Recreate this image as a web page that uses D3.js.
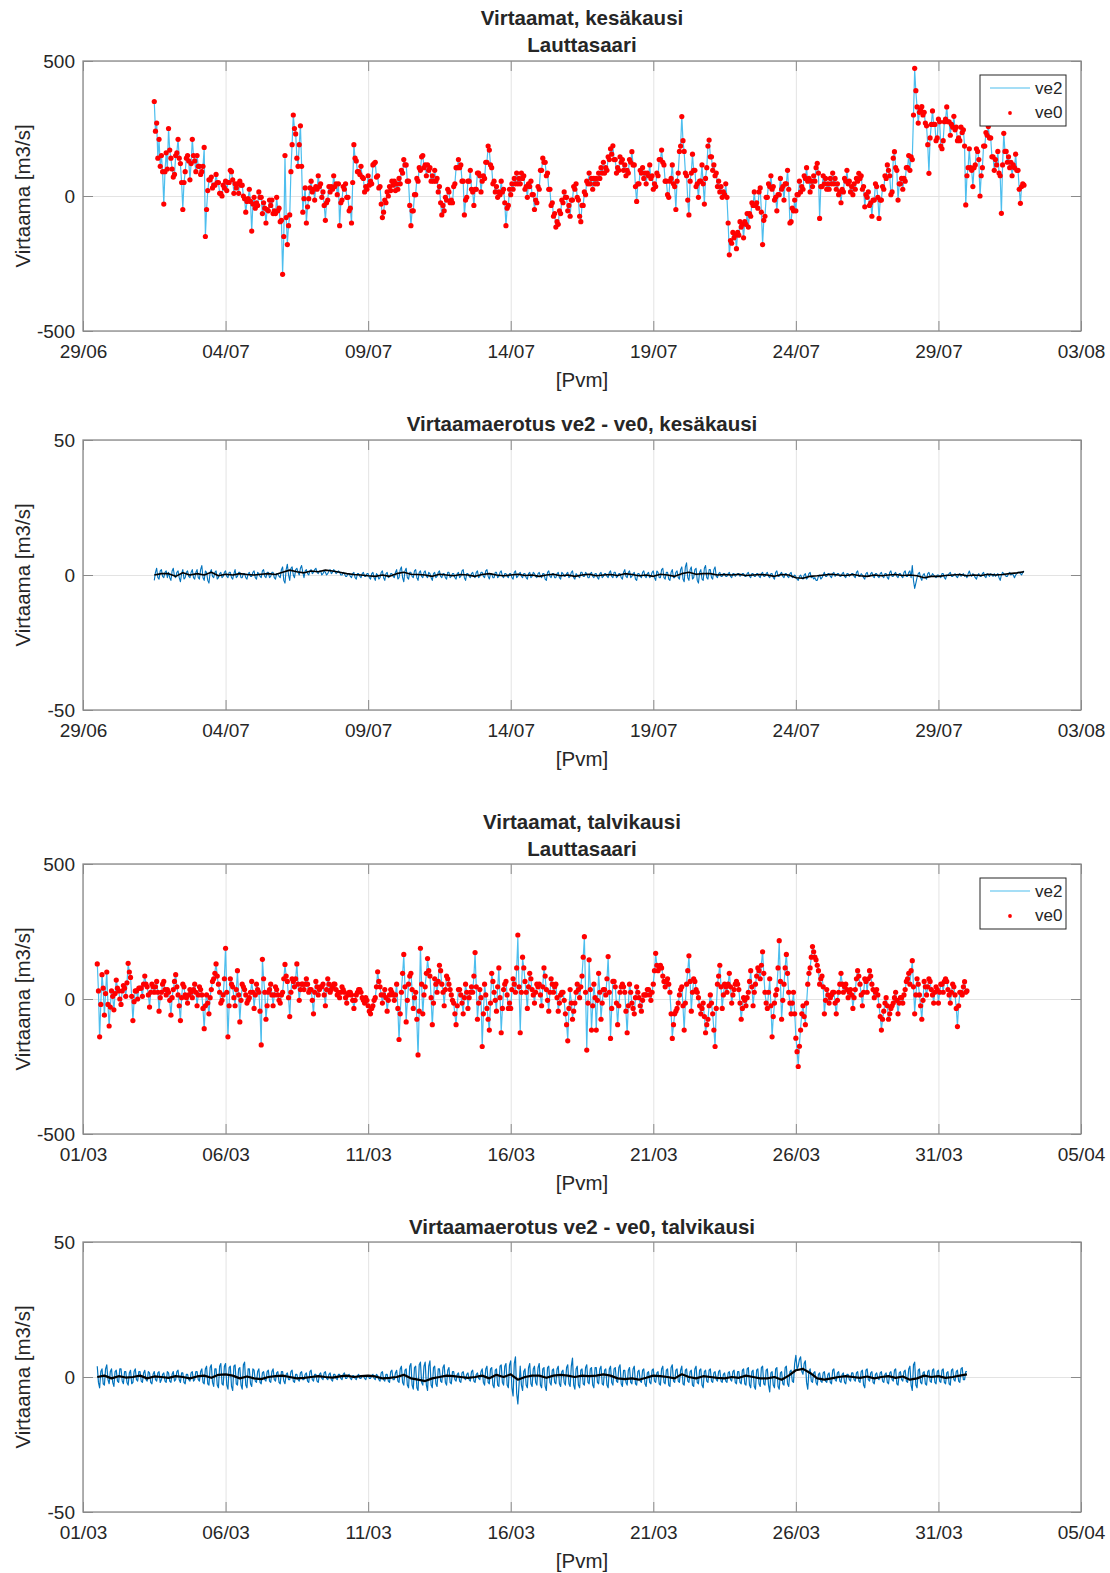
<!DOCTYPE html>
<html>
<head>
<meta charset="utf-8">
<script src="https://cdn.jsdelivr.net/npm/d3@7"></script>
<style>
body { margin: 0; background: #fff; }
svg text { font-family: "Liberation Sans", Arial, sans-serif; fill: #262626; }
</style>
</head>
<body>
<div id="container"></div>
<script>
let w = 1110;
let h = 1573;

// ---- data ----------------------------------------------------------------
// summer flow ve0, hourly from 01/07 12:00 to 01/08 00:00 (one row = one day)
let summerVe0 = [
  350,240,270,140,210,110,150,90,-30,90,160,100,
  250,170,140,100,70,80,150,160,210,140,120,50,-50,50,90,140,150,130,60,120,210,150,130,90,
  150,110,110,80,90,110,180,-150,-50,20,60,60,70,30,40,40,80,50,50,10,10,0,40,30,
  55,20,50,50,95,90,60,10,45,30,45,10,55,40,40,0,-10,-60,-20,-10,25,-20,-130,-30,
  -5,-45,-25,-35,15,-5,-5,-65,-25,-45,-100,-50,-55,-15,-35,-15,-65,-55,-65,-5,-55,-45,-95,-90,
  -290,-150,150,-80,-180,-110,-70,90,190,300,250,230,140,110,190,260,110,-60,-10,30,-100,-40,-10,30,
  55,15,25,-15,35,25,75,35,45,-5,15,-35,-90,-25,-15,35,15,35,25,75,35,45,5,45,
  -110,-25,-15,35,25,45,-5,-5,-55,-45,-100,50,190,140,130,90,90,80,110,70,65,15,35,25,
  75,40,55,45,115,120,125,70,75,30,35,-30,-80,-60,-15,-25,15,0,35,20,55,40,55,20,
  45,25,65,45,95,85,135,115,115,55,55,-35,-110,-55,-55,5,5,65,55,105,95,145,150,105,
  115,75,115,95,105,55,75,55,95,55,65,15,35,-25,-70,-35,-55,-5,-15,25,15,-25,-15,-25,
  35,45,105,105,135,105,115,55,55,-70,-15,-5,55,55,95,25,15,-35,25,25,85,85,75,15,
  55,75,65,125,125,185,170,115,105,45,55,15,35,-5,15,5,55,15,25,-25,-110,-45,-35,25,
  5,45,25,65,45,85,45,65,45,85,65,75,25,35,-5,45,35,55,5,5,-50,-15,-25,35,
  25,95,95,140,125,125,75,85,25,25,-35,-25,-75,-65,-115,-95,-105,-55,-65,-15,-25,15,-5,-5,
  -55,-35,-75,-15,-15,35,25,45,-5,-15,-75,-95,-35,-35,15,5,55,45,85,45,65,25,65,45,
  65,45,85,65,105,85,125,85,105,95,145,135,175,155,186,135,135,85,105,95,145,125,135,95,
  115,75,95,85,135,125,164,115,115,35,-20,45,45,95,85,105,65,85,45,85,75,115,65,75,
  25,45,35,85,75,135,135,170,125,115,55,55,5,-5,55,65,115,45,35,-50,55,85,165,185,
  294,205,165,85,75,-15,-70,55,85,155,95,95,35,45,-5,55,55,115,45,-30,65,105,185,207,
  145,145,95,115,75,85,35,55,15,35,-5,15,5,45,-5,-100,-218,-165,-175,-135,-155,-145,-195,-135,
  -145,-95,-115,-105,-155,-95,-105,-65,-115,-65,-75,-25,-35,15,-35,-25,-45,15,30,-60,-180,-90,-75,-5,
  -5,45,35,75,25,35,-15,-5,-55,5,5,65,25,35,-15,45,45,95,25,-100,-95,-45,-55,-15,
  -55,5,5,55,15,35,25,75,65,105,55,65,15,55,35,75,55,105,121,85,-83,35,35,75,
  45,65,25,45,25,65,45,85,45,65,25,45,5,15,-25,25,15,65,55,95,45,55,15,35,
  5,45,25,65,55,84,65,75,25,35,-40,5,-5,15,-35,-25,-75,-15,-15,45,35,-5,-83,-15,
  -15,35,25,75,65,115,95,75,5,15,140,164,105,95,-15,45,45,65,25,65,55,105,105,150,
  95,145,135,300,473,390,330,270,310,320,331,300,310,270,260,190,84,215,265,315,265,265,205,215,
  285,275,185,175,205,275,285,330,275,275,225,265,255,295,245,255,205,215,205,255,235,245,185,-33,
  75,105,175,105,95,35,105,115,175,165,135,0,75,105,185,185,235,225,257,215,215,145,145,95,
  135,115,165,85,75,-64,115,232,165,165,125,145,105,125,75,115,105,155,95,95,25,-27,35,45,
  40
];

// ve2 - ve0, summer, hourly
let summerDiff = [
  -2,1,2.5,-1,-1.5,1.5,2,-0.5,-1,1,1.5,-1,
  1,-1,-2,1.5,2.5,-0.5,-1,1,1.5,-1,-2.5,0.5,2,-1.5,-1,1,1.5,-0.5,-1,1,2,-1,-1.5,1,
  2,-1,-1.5,2,3.5,-1,-2,1.5,1,-2,-3,1,2,-0.5,-1,1,1.5,-1.5,-1,0.5,1,-1,-0.5,1,
  1.5,-0.5,-1,1,1,-1,-1.5,0.5,2,-1,-0.5,1,1,-1,-1,0.5,0.5,-1,-1.5,0.5,1,-0.5,-0.5,1,
  1.5,-1,-1.5,1,0.5,-0.5,-1,1.5,2,-0.5,-1,1,1,-1,-0.5,1,1,-1,-1.5,0.5,0.5,-0.5,-1,2,
  3,-2,-3,2,4,0,-2,2.5,3,0,-1,2,2.5,1,0,2.5,3.5,1,-1,1.5,2,0.5,0,1.5,
  2,0.5,1,2,2.5,1,0.5,1.5,1.5,0,0.5,1.5,1,0,0.5,1.5,2,0.5,1,2,1.5,0.5,1,1.5,
  1,0,0,1,0.5,-0.5,-0.5,0.5,0.5,-0.5,-1,0.5,1,-1,-1.5,0.5,0.5,-0.5,-1,0.5,1,-0.5,-0.5,0.5,
  0.5,-1,-1.5,0.5,1,-1,-2,0.5,0,-1.5,-1,1,1.5,-1,-2,0.5,1,-1,-0.5,0.5,0.5,-0.5,-1,1,
  2,-1.5,-1,2,3,-1,-2.5,1.5,2.5,-1,-1.5,1,1,-0.5,-1,1.5,2,-1,-2,1,1.5,-0.5,-1,1,
  1.5,-0.5,-1,1,0.5,-1,-2,0.5,1,-1,-0.5,1,1.5,-0.5,-1,0.5,0.5,-1,-1.5,1,1,-1,-0.5,0.5,
  0.5,-1,-1.5,0.5,1,-1,-0.5,1.5,2,-1,-2,0.5,0.5,-0.5,-1,0.5,1,-0.5,-1,1,1.5,-1,-0.5,1,
  1,-0.5,-1,1.5,2,-0.5,-1.5,0.5,0.5,-1,-1,1,1,-1,-0.5,1,1.5,-0.5,-1,0.5,0.5,-0.5,-1,0.5,
  0.5,-1,-1.5,1,1.5,-1,-0.5,0.5,1,-0.5,-1,0.5,0.5,-1,-1.5,0.5,1,-1,-0.5,1,0.5,-0.5,-1,0.5,
  1,-0.5,-1,0.5,0.5,-1.5,-2,1,1.5,-0.5,-1,0.5,0.5,-1,-1,0.5,1,-1,-1.5,1,0.5,-0.5,-0.5,0.5,
  1,-1,-0.5,1,1.5,-1,-1.5,0.5,0,-0.5,-1,1,1,-0.5,-0.5,1,0.5,-1,-1,0.5,1,-0.5,-1,0.5,
  0.5,-1,-1.5,0.5,1,-1,-0.5,0.5,0.5,-0.5,-1,1,1.5,-0.5,-1,1,1,-1,-0.5,0.5,0.5,-1,-1.5,1,
  2,-0.5,-1,1,1.5,-1,-0.5,0.5,1,-1.5,-2,0.5,0.5,-0.5,-1,1,1.5,-0.5,-1,0.5,1,-1,-0.5,1,
  1.5,-1,-2,1.5,1,-1,-1,2,2.5,-1,-1.5,1,1,-1.5,-2,1,2,-1,-1,1,1.5,-1,-1.5,2,
  3,-1.5,-2.5,3,4.5,-1,-2,2,3,-1.5,-1,2,2.5,-2,-3,1,2,-1.5,-2,2.5,3.5,-1,-1.5,2,
  2,-1,-1.5,2,3,-0.5,-1,0.5,1,-0.5,-0.5,0.5,0.5,-0.5,-0.5,0.5,1,-0.5,-1,0.5,0.5,-0.5,0,0.5,
  0.5,-0.5,0,0.5,0.5,-0.5,-0.5,0.5,1,-0.5,-1,0.5,0.5,-0.5,-0.5,0.5,0.5,-0.5,-1,0.5,1,-0.5,-0.5,0.5,
  1,-0.5,-1,0.5,0.5,-1,-1.5,1,1.5,-0.5,-0.5,0.5,1,-0.5,-1,0.5,0.5,-0.5,-1,0.5,1,-1,-0.5,0,
  -0.5,-1.5,-2,-0.5,0,-1,-1.5,0,0.5,-1.5,-1,0.5,1,-1,-0.5,-1.5,-1,-2,-2,-0.5,0,-1.5,-1,0,
  1,-0.5,-0.5,0.5,0.5,-0.5,-1,0.5,1,-0.5,0,0.5,0.5,-0.5,-0.5,0.5,1,-0.5,-1,0.5,0.5,-0.5,0,0.5,
  0.5,-0.5,-1,1,1.5,-0.5,-0.5,0.5,0,-1,-1.5,0.5,1,-0.5,-0.5,0.5,1,-0.5,-1,0.5,0.5,-0.5,-1,0.5,
  1,-0.5,-1,0.5,0.5,-1,-1.5,1,1.5,-0.5,-0.5,0.5,1,-0.5,-1,0.5,0.5,-0.5,-1,1,1.5,-0.5,-0.5,1,
  1.5,-1,3.5,-2,-5,-3,-1,0.5,1,-1,-2,0,0.5,-1,-1.5,0.5,1,-0.5,-0.5,0.5,0,-0.5,-1,0,
  0,-0.5,-1,0.5,0.5,-1,-1.5,0,0,0.5,1,-0.5,-0.5,0,0.5,-0.5,-1,0,0.5,-0.5,0,0.5,-0.5,0,
  -1,0.5,1.5,0,-0.5,0.5,0,-1,-1.5,0,0.5,-0.5,-0.5,0.5,1,-0.5,-1,0.5,0,-0.5,0.5,0,-0.5,0.5,
  -0.5,0,0.5,-1,-2,0,1,0.5,0,-0.5,-0.5,0.5,1,0,0.5,0,-1,0,0.5,1,1,0.5,0,1,
  1.5
];

// smoothed difference (black), summer, 6 h steps
let summerSmooth = [
  0,0.5,
  0.5,-0.5,0.8,0,
  0.5,0,1,-0.3,
  0.3,0,0.5,0.2,
  0,0.3,0.5,0.2,
  1,1.8,1.2,0.8,
  1.5,1.2,1.8,1.5,
  1,0.5,0.2,0,
  -0.3,-0.5,0,-0.5,
  0.5,1,0.3,0.2,
  0,-0.5,0.3,0,
  -0.3,0.2,0,-0.5,
  0.2,0.5,0,-0.3,
  0,0.3,-0.2,0,
  -0.5,0,0.3,-0.3,
  0,-0.5,0,0.3,
  -0.3,0,0.2,-0.2,
  0.5,0.2,-0.3,0,
  -0.5,0.3,0,-0.5,
  0.5,1,0.3,0.5,
  0.5,0,0.2,0,
  0.3,-0.2,0,0.2,
  0,-0.5,0.2,0,
  -1,-1.2,-0.5,-0.3,
  0,0.3,0,-0.2,
  0.2,-0.3,-0.5,0,
  -0.3,0,0.2,-0.2,
  0,-0.3,-1,-0.5,
  -0.5,-0.2,0,0.2,
  -0.3,0,-0.2,0.3,
  0,0.2,0.5,0.8,
  1.2
];

// winter flow ve0, hourly from 01/03 12:00 to 01/04 00:00
let winterVe0 = [
  130,30,-140,-20,90,40,-60,20,100,-20,-100,-30,
  30,10,-40,20,70,40,30,0,-20,30,50,40,10,60,132,100,80,10,-80,-10,30,30,0,40,
  40,40,10,55,85,55,45,15,-30,25,55,45,25,45,65,25,-45,5,25,55,65,35,15,35,
  25,-5,-60,5,35,65,90,45,15,-25,-80,5,55,45,15,5,-15,15,35,25,5,35,55,25,
  -25,15,45,35,15,-35,-110,-25,15,-15,-55,5,35,65,75,95,130,85,55,25,-15,-5,15,75,
  188,25,-140,-25,75,55,45,5,-25,35,105,15,-85,-5,55,45,35,15,-15,-5,5,25,65,25,
  -35,15,55,35,25,-45,-170,147,75,25,-75,-25,25,35,55,15,-25,15,45,35,15,-5,-15,15,
  25,75,128,85,65,5,-65,25,75,65,45,75,130,55,-5,35,55,55,35,55,75,55,25,35,
  35,-5,-55,25,65,45,15,35,45,45,55,15,-25,35,75,55,25,35,45,55,55,35,15,25,
  5,25,45,35,25,5,-15,15,25,25,15,-5,-35,-5,15,25,35,35,25,5,-5,-15,5,-5,
  -25,-45,-55,-35,-25,-5,5,45,101,65,45,15,-15,15,35,5,-45,-5,15,35,25,15,-5,15,
  55,-35,-150,-55,25,95,165,45,-85,-5,55,85,95,35,-35,5,25,-75,-207,-45,188,55,-55,15,
  45,95,150,105,85,5,-95,-15,75,55,25,65,125,105,55,25,-25,35,85,75,55,35,15,-5,
  -15,-55,-95,-25,35,35,15,-15,-55,5,55,25,-35,5,25,45,25,85,172,45,-75,-15,35,5,
  -176,-55,55,15,-35,-75,-115,-15,95,65,25,-5,-45,45,115,5,-125,-35,35,55,65,15,-35,-15,
  -35,35,75,55,25,115,237,45,-125,25,155,115,65,25,-35,45,95,75,35,15,-15,25,55,45,
  55,15,-25,45,115,85,35,-5,-45,25,75,55,25,45,55,5,-45,-15,15,25,25,-5,-55,-95,
  -155,-35,35,-15,-75,-45,-15,25,55,35,5,45,85,155,231,25,-189,-15,145,35,-115,-25,55,5,
  -115,-5,95,25,-75,-15,35,35,15,75,157,25,-146,-35,65,65,45,-15,-95,-25,25,45,55,45,
  25,-45,-125,-25,55,25,-15,-35,-55,5,45,25,5,-25,-45,-5,15,15,15,35,35,15,-5,25,
  55,105,169,125,105,115,125,115,85,65,45,65,75,55,25,-55,-146,-95,-55,-45,-35,-15,15,35,
  45,-25,-115,-15,55,105,160,65,-45,25,75,65,35,25,5,-25,-55,-35,-15,-65,-125,-95,-75,-25,
  15,-15,-55,-115,-176,-35,55,85,125,45,-35,15,55,45,25,55,95,45,-15,15,35,55,65,55,
  35,-15,-75,-35,5,-5,-25,5,25,65,105,45,-25,25,55,85,115,105,75,125,175,95,25,-15,
  -35,25,75,-25,-140,-65,-15,15,35,115,216,65,-75,-5,55,115,165,95,25,-15,-55,-15,25,-55,
  -145,-195,-250,-175,-115,-55,-25,-65,-95,-15,55,95,115,155,194,175,155,145,125,105,55,75,85,45,
  -55,-5,35,15,-15,5,15,25,25,-15,-55,-5,25,55,95,55,25,45,55,35,5,25,35,15,
  -35,5,35,75,105,85,55,15,-25,25,75,65,25,75,105,85,55,35,5,25,35,15,-25,-65,
  -115,-75,-45,-15,5,-25,-75,-55,-35,-25,-15,5,25,-5,-55,-15,5,5,-15,15,35,65,75,95,
  55,105,142,45,-55,15,75,55,15,-25,-75,-5,65,45,15,45,75,65,35,15,-15,25,45,35,
  -15,25,55,55,25,65,75,65,35,15,-15,25,55,45,15,-35,-102,-25,25,25,15,45,64,25,
  30
];

// ve2 - ve0, winter, hourly
let winterDiff = [
  4,-2,-4,2,3,-2.5,-3,3,4.5,-1,-2.5,2,
  3,-2,-3.5,2,2.5,-1.5,-2,3,3,-1.5,-2.5,2,2,-2,-3,1.5,2.5,-2.5,-2,2,3,-1,-1.5,2,
  2,-1.5,-2,1.5,2.5,-1,-1.5,2,1.5,-2,-2.5,1,2,-1,-1.5,1.5,2,-2,-1,1,1.5,-1.5,-2,2,
  1.5,-1.5,-2,1,2,-1.5,-1,2,2.5,-1,-2,1.5,1.5,-2,-2.5,1,1,-1,-1.5,1.5,2,-1.5,-1,2,
  2,-1,-1.5,2,3,-2,-2.5,3,4,-2.5,-3,3.5,4.5,-2,-3.5,3,3,-3,-4,4,5,-2.5,-3,4,
  5,-3,-4.5,3.5,4,-3.5,-5,4,4.5,-2.5,-3,3,3.5,-3,-4.5,4.5,5.5,-3,-4,3,3,-2.5,-3.5,3,
  2.5,-1.5,-2,2,3,-2,-2.5,1.5,2,-1,-1.5,2,2.5,-1.5,-2,2,3,-1,-1.5,1.5,2,-2,-2.5,2,
  2,-1.5,-2.5,1,1.5,-1,-1,2,2.5,-1.5,-2,1,1,-1,-1.5,1.5,2,-1,-1,1,1.5,-1.5,-2,2,
  2.5,-1,-1.5,1,1,-1.5,-2,1,1.5,-0.5,-1,1.5,2,-0.5,-1,1,1.5,-1,-1.5,1,1,-0.5,-1,1,
  1,-0.5,-1,1,1.5,-0.5,-0.5,0.5,1,-0.5,-1,0.5,0.5,-0.5,-1,0.5,1,-0.5,-0.5,0.5,0.5,-0.5,-1,0.5,
  0.5,-0.5,-0.5,0.5,1,-0.5,-1,1,0.5,-1,-1.5,1.5,2,-1,-1.5,1,1,-1.5,-2,2,2.5,-1,-1,1.5,
  2.5,-1.5,-2,3,4,-2,-3,2.5,3,-3,-4,4,5,-3,-4.5,3.5,4,-4,-5,4.5,5.5,-2,-3,4,
  5.5,-3,-5,4,6,-3,-4,3.5,4,-2.5,-3.5,3,3,-1.5,-2,3.5,4.5,-2,-3,2.5,3.5,-2,-2.5,2,
  2,-1,-1.5,1,1.5,-1.5,-2,1.5,2,-0.5,-1,1,1.5,-1,-1.5,2,2.5,-1.5,-2,1,1.5,-0.5,-1,2,
  3,-2,-3,3,4,-2,-2.5,3,3.5,-3,-4,2.5,3,-3,-3.5,4,4.5,-2,-3,4,5,-3,-4,4.5,
  6,-4,-7,5,7.5,-6,-10,-3,4,-3,-5,2,3,-3,-4,3.5,5,-2.5,-3.5,3,4,-2,-3,3.5,
  5,-3,-4,3,3.5,-3.5,-5,3.5,4,-2,-3,2.5,3,-2,-2.5,3,4,-2.5,-3.5,2,2.5,-2,-3,3.5,
  4.5,-2.5,-3.5,4,7,-3,-4.5,3,4,-3,-4,2.5,3,-2.5,-3,3.5,4.5,-2,-2.5,3,3.5,-3,-4,3.5,
  3.5,-2,-2.5,3,4,-2.5,-3,2.5,3,-3,-4,3,4,-2,-3,3,3.5,-1.5,-2,3.5,4.5,-2.5,-3.5,2.5,
  2.5,-2,-3,2.5,3.5,-2,-2.5,3,4,-2.5,-3,2,2.5,-1.5,-2,2.5,3,-2.5,-3.5,1.5,2,-2,-2.5,2.5,
  3,-1.5,-2,1.5,2,-2.5,-3,3,4,-2,-2.5,2.5,3,-3,-3.5,3.5,4.5,-1.5,-2,2.5,3,-1.5,-2,2.5,
  4,-2.5,-3,2.5,3,-1.5,-2,2,2.5,-3,-3.5,3,4,-2,-2.5,2.5,3,-3,-4,2,2.5,-1.5,-2,2.5,
  3,-1.5,-2,1.5,2,-1,-1.5,2,2.5,-1.5,-2,1,1.5,-1.5,-2,1.5,2,-1,-1.5,2,2.5,-2,-2.5,2,
  2,-2,-2.5,2.5,3,-2.5,-3,3,3.5,-3,-4,2,2.5,-3.5,-4.5,2.5,3,-2.5,-3.5,3.5,4,-2.5,-3,2.5,
  3,-3,-5.5,1.5,2,-3,-4,3,3.5,-3.5,-4.5,1.5,2,-2.5,-3,3.5,4,-2.5,-3.5,2,2.5,-1.5,-2,5,
  8,3,4,6.5,7.5,2,1,5,6,-2,-4.5,2,3,-1.5,-2,1.5,2,-2,-3,1,1.5,-1.5,-2,1.5,
  2,-1.5,-2,1,1.5,-2,-2.5,2.5,3,-1,-1.5,1.5,2,-1.5,-2,1,1.5,-2,-2.5,1,1,-1,-1.5,1.5,
  1.5,-1,-1.5,1.5,2,-1.5,-2,2,2.5,-3,-4,2.5,3,-1,-1.5,1.5,2,-2,-2.5,1,1.5,-0.5,-1,1.5,
  2,-1.5,-2,1,1.5,-2,-2.5,1.5,2,-1,-1.5,2.5,3,-2.5,-3,1.5,2,-1,-1.5,2,2.5,-1.5,-2,3,
  4,-3,-5,4.5,5.5,-3,-4,2.5,3,-2,-2.5,1.5,2,-2.5,-3,2,2.5,-1.5,-2,2.5,3,-2,-2.5,2,
  2.5,-1.5,-2,2.5,3,-2,-2.5,1.5,2,-2.5,-3,2.5,3,-1,-1.5,2,2.5,-1.5,-2,3,3.5,-1,-1,2,
  2
];

// smoothed difference (black), winter, 6 h steps
let winterSmooth = [
  0,0.5,
  -0.5,0.3,-0.2,0,
  0.5,-0.5,0.2,0,
  -0.3,0.3,0,-0.5,
  0.2,0.5,-0.3,0.8,
  1,0.5,-0.5,0.2,
  -0.5,-0.8,0,0.3,
  0.5,0,-0.5,-0.3,
  0,0.3,0,-0.2,
  0.2,0.5,0,0.3,
  0.5,0.2,-0.5,-0.3,
  0,0.8,-0.5,-1,
  -1.5,-0.5,0,0.5,
  0.3,0,-0.3,0,
  0.5,-0.5,0.8,0,
  1,-1,0,0.5,
  0.5,-0.3,0.5,0.8,
  0.5,0,0.5,0.3,
  0.5,1,0.5,-0.5,
  -0.8,-0.5,-1,-0.3,
  0.5,0.3,0,-0.5,
  1,0,-0.5,0.3,
  0,-0.3,-0.5,0,
  -0.3,0.5,0,-0.5,
  -0.5,0,-1,0.5,
  2.5,3,1.5,-0.5,
  -1,-0.5,0,0.3,
  0,-0.3,0.2,-0.5,
  0,0.3,-0.3,0.2,
  -1,-0.5,0.5,0,
  0.3,-0.3,0,0.5,
  1
];

let summerTickDates = ["2019-06-29","2019-07-04","2019-07-09","2019-07-14","2019-07-19","2019-07-24","2019-07-29","2019-08-03"];
let winterTickDates = ["2019-03-01","2019-03-06","2019-03-11","2019-03-16","2019-03-21","2019-03-26","2019-03-31","2019-04-05"];
let flowTicks = [-500, 0, 500];
let diffTicks = [-50, 0, 50];
let seriesNames = ["ve2", "ve0"];

// ---- drawing -------------------------------------------------------------
let parseDay = d3.utcParse("%Y-%m-%d");
let dayFormat = d3.utcFormat("%d/%m");

let viz = d3.select("#container").append("svg")
    .attr("width", w)
    .attr("height", h)
    .style("background-color", "white");

let x0 = 83;
let x1 = 1081;
let boxColor = "#8a8a8a";
let gridColor = "#e3e3e3";

// sample times: regular steps from the first sample (12:00 on the first day)
function sampleTimes(start, stepHours, n){
  let t0 = parseDay(start);
  return d3.range(n).map(i => d3.utcHour.offset(t0, 12 + stepHours * i));
}

function drawPanel(p, idx){
  let g = viz.append("g");
  let ticks = p.tickDates.map(parseDay);
  let xScale = d3.scaleUtc().domain([ticks[0], ticks[ticks.length - 1]]).range([x0, x1]);
  let yScale = d3.scaleLinear().domain([p.yTicks[0], p.yTicks[2]]).range([p.bottom, p.top]);
  let ph = p.bottom - p.top;

  // grid
  g.append("g").attr("transform", "translate(0," + p.bottom + ")")
    .call(d3.axisBottom(xScale).tickValues(ticks).tickSize(-ph).tickFormat(""))
    .call(a => a.select(".domain").remove())
    .selectAll("line").attr("stroke", gridColor).attr("stroke-width", 1);
  g.append("g").attr("transform", "translate(" + x0 + ",0)")
    .call(d3.axisLeft(yScale).tickValues(p.yTicks).tickSize(-(x1 - x0)).tickFormat(""))
    .call(a => a.select(".domain").remove())
    .selectAll("line").attr("stroke", gridColor).attr("stroke-width", 1);

  // data
  let clipId = "clip" + idx;
  viz.append("clipPath").attr("id", clipId).append("rect")
    .attr("x", x0).attr("y", p.top).attr("width", x1 - x0).attr("height", ph);
  let plot = g.append("g").attr("clip-path", "url(#" + clipId + ")");
  p.lines.forEach(function(s){
    let line = d3.line().x((v, i) => xScale(s.times[i])).y(v => yScale(v));
    plot.append("path").datum(s.values)
      .attr("fill", "none").attr("stroke", s.color).attr("stroke-width", s.width)
      .attr("stroke-linejoin", "round")
      .attr("d", line);
  });
  if (p.dots){
    plot.append("g").selectAll("circle").data(p.dots.values).join("circle")
      .attr("cx", (v, i) => xScale(p.dots.times[i]))
      .attr("cy", v => yScale(v))
      .attr("r", 2.6)
      .attr("fill", "#ff0000");
  }

  // inner tick marks (bottom, top, left, right)
  let tickLen = 10;
  g.append("g").attr("transform", "translate(0," + p.bottom + ")")
    .call(d3.axisBottom(xScale).tickValues(ticks).tickSize(-tickLen).tickFormat(""))
    .call(a => a.select(".domain").remove())
    .selectAll("line").attr("stroke", boxColor);
  g.append("g").attr("transform", "translate(0," + p.top + ")")
    .call(d3.axisTop(xScale).tickValues(ticks).tickSize(-tickLen).tickFormat(""))
    .call(a => a.select(".domain").remove())
    .selectAll("line").attr("stroke", boxColor);
  g.append("g").attr("transform", "translate(" + x0 + ",0)")
    .call(d3.axisLeft(yScale).tickValues(p.yTicks).tickSize(-tickLen).tickFormat(""))
    .call(a => a.select(".domain").remove())
    .selectAll("line").attr("stroke", boxColor);
  g.append("g").attr("transform", "translate(" + x1 + ",0)")
    .call(d3.axisRight(yScale).tickValues(p.yTicks).tickSize(-tickLen).tickFormat(""))
    .call(a => a.select(".domain").remove())
    .selectAll("line").attr("stroke", boxColor);

  // box
  g.append("rect").attr("x", x0).attr("y", p.top).attr("width", x1 - x0).attr("height", ph)
    .attr("fill", "none").attr("stroke", boxColor).attr("stroke-width", 1.3);

  // tick labels
  let xLab = g.append("g").attr("transform", "translate(0," + p.bottom + ")")
    .call(d3.axisBottom(xScale).tickValues(ticks).tickSize(0).tickFormat(dayFormat));
  xLab.select(".domain").remove();
  xLab.selectAll("text").attr("y", 27).attr("dy", null)
    .style("font-size", "19px").style("fill", "#262626");

  // plain hyphen minus, as in the original
  let yLab = g.append("g").attr("transform", "translate(" + x0 + ",0)")
    .call(d3.axisLeft(yScale).tickValues(p.yTicks).tickSize(0).tickPadding(8).tickFormat(d => String(d)));
  yLab.select(".domain").remove();
  yLab.selectAll("text").attr("dy", "0.34em").style("font-size", "19px").style("fill", "#262626");

  // axis titles
  g.append("text").attr("x", (x0 + x1) / 2).attr("y", p.bottom + 56)
    .attr("text-anchor", "middle").style("font-size", "20.5px").text("[Pvm]");
  g.append("text")
    .attr("transform", "translate(30," + ((p.top + p.bottom) / 2) + ") rotate(-90)")
    .attr("text-anchor", "middle").style("font-size", "20.5px").text("Virtaama [m3/s]");

  // titles
  p.titles.forEach(function(t, i){
    g.append("text").attr("x", (x0 + x1) / 2).attr("y", p.titleY[i])
      .attr("text-anchor", "middle").style("font-size", "20.5px").style("font-weight", "bold")
      .text(t);
  });

  // legend
  if (p.legend){
    let lg = g.append("g").attr("transform", "translate(980," + (p.top + 14) + ")");
    lg.append("rect").attr("width", 86).attr("height", 51)
      .attr("fill", "white").attr("stroke", "#262626").attr("stroke-width", 1);
    lg.append("line").attr("x1", 10).attr("x2", 50).attr("y1", 13).attr("y2", 13)
      .attr("stroke", "#4dbeee").attr("stroke-width", 1.2);
    lg.append("circle").attr("cx", 30).attr("cy", 38).attr("r", 1.9).attr("fill", "#ff0000");
    lg.selectAll("text.leg").data(seriesNames).join("text")
      .attr("class", "leg")
      .attr("x", 55).attr("y", (d, i) => 19 + i * 24)
      .style("font-size", "17px").text(d => d);
  }
}

let sT1 = sampleTimes("2019-07-01", 1, summerVe0.length);
let sD1 = sampleTimes("2019-07-01", 1, summerDiff.length);
let sT6 = sampleTimes("2019-07-01", 6, summerSmooth.length);
let wT1 = sampleTimes("2019-03-01", 1, winterVe0.length);
let wD1 = sampleTimes("2019-03-01", 1, winterDiff.length);
let wT6 = sampleTimes("2019-03-01", 6, winterSmooth.length);

// ve2 = ve0 + (ve2 - ve0)
let summerVe2 = summerVe0.map((v, i) => v + (summerDiff[i] || 0));
let winterVe2 = winterVe0.map((v, i) => v + (winterDiff[i] || 0));

let panels = [
  { top: 61, bottom: 331, tickDates: summerTickDates, yTicks: flowTicks,
    titles: ["Virtaamat, kesäkausi", "Lauttasaari"], titleY: [25, 52],
    lines: [{ values: summerVe2, times: sT1, color: "#4dbeee", width: 1.2 }],
    dots: { values: summerVe0, times: sT1 }, legend: true },
  { top: 440, bottom: 710, tickDates: summerTickDates, yTicks: diffTicks,
    titles: ["Virtaamaerotus ve2 - ve0, kesäkausi"], titleY: [431],
    lines: [{ values: summerDiff, times: sD1, color: "#0072bd", width: 1.1 },
            { values: summerSmooth, times: sT6, color: "#000000", width: 1.6 }] },
  { top: 864, bottom: 1134, tickDates: winterTickDates, yTicks: flowTicks,
    titles: ["Virtaamat, talvikausi", "Lauttasaari"], titleY: [829, 856],
    lines: [{ values: winterVe2, times: wT1, color: "#4dbeee", width: 1.2 }],
    dots: { values: winterVe0, times: wT1 }, legend: true },
  { top: 1242, bottom: 1512, tickDates: winterTickDates, yTicks: diffTicks,
    titles: ["Virtaamaerotus ve2 - ve0, talvikausi"], titleY: [1234],
    lines: [{ values: winterDiff, times: wD1, color: "#0072bd", width: 1.2 },
            { values: winterSmooth, times: wT6, color: "#000000", width: 2.2 }] }
];

panels.forEach(drawPanel);
</script>
</body>
</html>
